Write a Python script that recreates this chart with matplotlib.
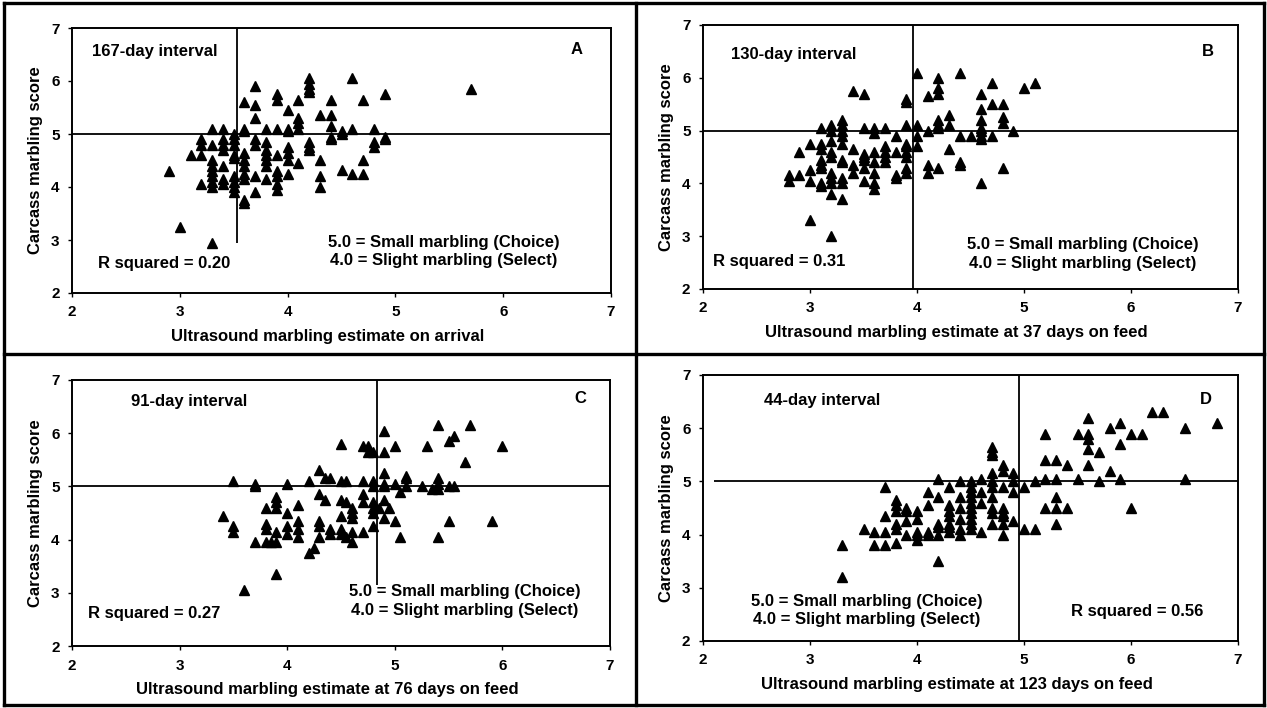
import matplotlib
matplotlib.use("Agg")
import matplotlib.pyplot as plt
from matplotlib.lines import Line2D

plt.rcParams['font.family'] = ['Liberation Sans', 'DejaVu Sans']
plt.rcParams['font.weight'] = 'bold'
plt.rcParams['axes.labelweight'] = 'bold'

# Panel A: arrival vs carcass
a_x = [2.9, 3.0, 3.1,
       3.2, 3.2, 3.2, 3.2,
       3.3, 3.3, 3.3, 3.3, 3.3, 3.3, 3.3, 3.3, 3.3,
       3.4, 3.4, 3.4, 3.4, 3.4, 3.4, 3.4,
       3.5, 3.5, 3.5, 3.5, 3.5, 3.5, 3.5, 3.5, 3.5,
       3.6, 3.6, 3.6, 3.6, 3.6, 3.6, 3.6, 3.6, 3.6, 3.6,
       3.7, 3.7, 3.7, 3.7, 3.7, 3.7, 3.7,
       3.8, 3.8, 3.8, 3.8, 3.8, 3.8, 3.8,
       3.9, 3.9, 3.9, 3.9, 3.9, 3.9, 3.9, 3.9,
       4.0, 4.0, 4.0, 4.0, 4.0, 4.0, 4.0,
       4.1, 4.1, 4.1, 4.1, 4.1,
       4.2, 4.2, 4.2, 4.2, 4.2, 4.2, 4.2,
       4.3, 4.3, 4.3, 4.3,
       4.4, 4.4, 4.4, 4.4, 4.4,
       4.5, 4.5, 4.5,
       4.6, 4.6, 4.6,
       4.7, 4.7, 4.7,
       4.8, 4.8, 4.8,
       4.9, 4.9, 4.9,
       5.7]
a_y = [4.3, 3.25, 4.6,
       4.9, 4.8, 4.6, 4.05,
       5.1, 4.8, 4.5, 4.4, 4.3, 4.2, 4.1, 4.0, 2.95,
       5.1, 4.9, 4.8, 4.7, 4.4, 4.15, 4.05,
       5.0, 4.9, 4.8, 4.6, 4.55, 4.2, 4.1, 4.0, 3.9,
       5.6, 5.1, 5.05, 4.65, 4.5, 4.4, 4.25, 4.15, 3.75, 3.7,
       5.9, 5.55, 5.3, 4.9, 4.8, 4.2, 3.9,
       5.1, 4.85, 4.7, 4.6, 4.5, 4.4, 4.15,
       5.75, 5.65, 5.1, 4.6, 4.3, 4.2, 4.05, 3.95,
       5.45, 5.1, 5.05, 4.75, 4.65, 4.5, 4.25,
       5.65, 5.3, 5.2, 5.1, 4.45,
       6.05, 5.95, 5.85, 5.8, 4.85, 4.75, 4.7,
       5.35, 4.5, 4.2, 4.0,
       5.65, 5.35, 5.15, 4.95, 4.9,
       5.05, 5.0, 4.33,
       6.05, 5.1, 4.25,
       5.65, 4.5, 4.25,
       5.1, 4.85, 4.75,
       5.75, 4.95, 4.9,
       5.85]

# Panel B: 37 days on feed
b_x = [2.8, 2.8, 2.9, 2.9,
       3.0, 3.0, 3.0, 3.0,
       3.1, 3.1, 3.1, 3.1, 3.1, 3.1, 3.1, 3.1,
       3.2, 3.2, 3.2, 3.2, 3.2, 3.2, 3.2, 3.2, 3.2, 3.2,
       3.3, 3.3, 3.3, 3.3, 3.3, 3.3, 3.3, 3.3, 3.3, 3.3,
       3.4, 3.4, 3.4, 3.4,
       3.5, 3.5, 3.5, 3.5, 3.5, 3.5, 3.5,
       3.6, 3.6, 3.6, 3.6, 3.6, 3.6, 3.6,
       3.7, 3.7, 3.7, 3.7, 3.7,
       3.8, 3.8, 3.8, 3.8,
       3.9, 3.9, 3.9, 3.9, 3.9, 3.9, 3.9, 3.9, 3.9,
       4.0, 4.0, 4.0, 4.0,
       4.1, 4.1, 4.1, 4.1,
       4.2, 4.2, 4.2, 4.2, 4.2, 4.2, 4.2,
       4.3, 4.3, 4.3,
       4.4, 4.4, 4.4, 4.4,
       4.5,
       4.6, 4.6, 4.6, 4.6, 4.6, 4.6, 4.6, 4.6,
       4.7, 4.7, 4.7,
       4.8, 4.8, 4.8, 4.8,
       4.9, 5.0, 5.1]
b_y = [4.15, 4.05, 4.6, 4.15,
       4.75, 4.25, 4.05, 3.3,
       5.05, 4.75, 4.65, 4.45, 4.35, 4.3, 4.0, 3.95,
       5.1, 5.0, 4.8, 4.6, 4.5, 4.2, 4.1, 4.0, 3.8, 3.0,
       5.2, 5.1, 5.0, 4.9, 4.75, 4.45, 4.4, 4.1, 4.0, 3.7,
       5.75, 4.65, 4.35, 4.2,
       5.7, 5.05, 4.55, 4.5, 4.45, 4.3, 4.05,
       5.05, 4.95, 4.6, 4.4, 4.2, 4.0, 3.9,
       5.05, 4.7, 4.6, 4.5, 4.4,
       4.9, 4.6, 4.15, 4.1,
       5.6, 5.55, 5.1, 4.75, 4.7, 4.6, 4.5, 4.3, 4.2,
       6.1, 5.1, 4.9, 4.7,
       5.65, 5.0, 4.35, 4.2,
       6.0, 5.8, 5.7, 5.2, 5.1, 5.05, 4.3,
       5.3, 5.1, 4.65,
       6.1, 4.9, 4.4, 4.35,
       4.9,
       5.7, 5.4, 5.2, 5.05, 5.0, 4.9, 4.85, 4.0,
       5.9, 5.5, 4.9,
       5.5, 5.25, 5.15, 4.3,
       5.0, 5.8, 5.9]

# Panel C: 76 days on feed
c_x = [3.4, 3.5, 3.5, 3.5, 3.6,
       3.7, 3.7, 3.7,
       3.8, 3.8, 3.8, 3.8, 3.85,
       3.9, 3.9, 3.9, 3.9, 3.9, 3.9,
       4.0, 4.0, 4.0, 4.0,
       4.1, 4.1, 4.1, 4.1,
       4.2, 4.2, 4.25,
       4.3, 4.3, 4.3, 4.3, 4.3,
       4.35, 4.35, 4.4, 4.4, 4.4,
       4.5, 4.5, 4.5, 4.5, 4.5, 4.5,
       4.55, 4.55, 4.55,
       4.6, 4.6, 4.6, 4.6, 4.6,
       4.7, 4.7, 4.7, 4.7, 4.7,
       4.75, 4.75,
       4.8, 4.8, 4.8, 4.8, 4.8, 4.8, 4.8,
       4.85,
       4.9, 4.9, 4.9, 4.9, 4.9, 4.9, 4.9,
       4.95,
       5.0, 5.0, 5.0, 5.05,
       5.1, 5.1, 5.1, 5.05,
       5.25, 5.3,
       5.35, 5.4, 5.4, 5.4, 5.4, 5.4,
       5.5, 5.5, 5.5, 5.55, 5.55,
       5.65, 5.7, 5.9, 6.0]
c_y = [4.45, 5.1, 4.25, 4.15, 3.05,
       5.0, 5.05, 3.95,
       4.6, 4.3, 4.2, 3.95, 3.95,
       4.8, 4.7, 4.6, 4.15, 3.95, 3.35,
       5.05, 4.5, 4.25, 4.1,
       4.65, 4.35, 4.2, 4.05,
       5.1, 3.75, 3.85,
       5.3, 4.85, 4.35, 4.25, 4.05,
       5.15, 4.75, 5.15, 4.2, 4.1,
       5.8, 5.1, 4.75, 4.45, 4.2, 4.1,
       5.1, 4.7, 4.05,
       4.6, 4.5, 4.4, 4.15, 3.95,
       5.75, 5.1, 4.85, 4.7, 4.15,
       5.75, 5.65,
       5.65, 5.1, 5.0, 4.7, 4.6, 4.5, 4.25,
       4.6,
       6.05, 5.65, 5.25, 5.05, 5.0, 4.75, 4.4,
       4.6,
       5.75, 5.05, 4.35, 4.05,
       5.2, 5.15, 5.0, 4.9,
       5.0, 5.75,
       4.95, 6.15, 5.15, 5.05, 4.95, 4.05,
       5.85, 5.0, 4.35, 5.95, 5.0,
       5.45, 6.15, 4.35, 5.75]

# Panel D: 123 days on feed
d_x = [3.3, 3.3, 3.5, 3.6, 3.6,
       3.7, 3.7, 3.7, 3.7,
       3.8, 3.8, 3.8, 3.8, 3.8, 3.8,
       3.9, 3.9, 3.9, 3.9,
       4.0, 4.0, 4.0, 4.0, 4.0,
       4.1, 4.1, 4.1, 4.1,
       4.2, 4.2, 4.2, 4.2, 4.2, 4.2,
       4.3, 4.3, 4.3, 4.3, 4.3, 4.3, 4.3,
       4.4, 4.4, 4.4, 4.4, 4.4, 4.4,
       4.5, 4.5, 4.5, 4.5, 4.5, 4.5, 4.5, 4.5, 4.5, 4.5,
       4.6, 4.6, 4.6, 4.6,
       4.7, 4.7, 4.7, 4.7, 4.7, 4.7, 4.7, 4.7, 4.7, 4.7,
       4.8, 4.8, 4.8, 4.8, 4.8, 4.8, 4.8, 4.8,
       4.9, 4.9, 4.9, 4.9,
       5.0, 5.0, 5.1, 5.1,
       5.2, 5.2, 5.2, 5.2,
       5.3, 5.3, 5.3, 5.3, 5.3,
       5.4, 5.4,
       5.5, 5.5,
       5.6, 5.6, 5.6, 5.6, 5.6,
       5.7, 5.7,
       5.8, 5.8,
       5.9, 5.9, 5.9,
       6.0, 6.0, 6.1,
       6.2, 6.3,
       6.5, 6.5, 6.8]
d_y = [3.8, 3.2, 4.1, 4.05, 3.8,
       4.9, 4.35, 4.05, 3.8,
       4.65, 4.55, 4.45, 4.2, 4.1, 3.85,
       4.5, 4.45, 4.25, 4.0,
       4.45, 4.3, 4.05, 4.0, 3.9,
       4.8, 4.55, 4.05, 4.0,
       5.05, 4.7, 4.2, 4.15, 4.0, 3.5,
       4.9, 4.55, 4.45, 4.35, 4.2, 4.15, 4.05,
       5.0, 4.7, 4.5, 4.3, 4.1, 4.0,
       5.0, 4.9, 4.8, 4.7, 4.6, 4.5, 4.4, 4.3, 4.2, 4.1,
       5.05, 4.8, 4.6, 4.05,
       5.65, 5.55, 5.5, 5.15, 5.0, 4.9, 4.7, 4.5, 4.4, 4.2,
       5.3, 5.2, 4.9, 4.5, 4.4, 4.35, 4.2, 4.0,
       5.15, 5.0, 4.8, 4.25,
       4.9, 4.1, 5.0, 4.1,
       5.9, 5.4, 5.05, 4.5,
       5.4, 5.05, 4.7, 4.5, 4.2,
       5.3, 4.5,
       5.9, 5.05,
       6.2, 5.9, 5.8, 5.6, 5.3,
       5.55, 5.0,
       6.0, 5.2,
       6.1, 5.7, 5.05,
       5.9, 4.5, 5.9,
       6.3, 6.3,
       6.0, 5.05, 6.1]

x_labels = ["Ultrasound marbling estimate on arrival",
            "Ultrasound marbling estimate at 37 days on feed",
            "Ultrasound marbling estimate at 76 days on feed",
            "Ultrasound marbling estimate at 123 days on feed"]
intervals = ["167-day interval", "130-day interval", "91-day interval", "44-day interval"]
letters = ["A", "B", "C", "D"]
r_squared = ["R squared = 0.20", "R squared = 0.31", "R squared = 0.27", "R squared = 0.56"]
split_x = [3.53, 3.96, 4.83, 4.95]    # vertical reference line
split_ymin = [2.95, 2.0, 3.15, 2.0]
hline_xmin = [2.0, 2.0, 2.0, 2.1]
legend_text = "5.0 = Small marbling (Choice)\n4.0 = Slight marbling (Select)"

W, H = 1267, 708
boxes = [(72, 28, 611, 293), (703, 25, 1238, 289),
         (72, 380, 610, 646), (703, 375, 1238, 641)]
interval_pos = [(2.19, 6.55), (2.26, 6.45), (2.55, 6.6), (2.57, 6.52)]
letter_pos = [(6.68, 6.6), (6.72, 6.5), (6.72, 6.66), (6.7, 6.54)]
rsq_pos = [(2.24, 2.56), (2.09, 2.53), (2.15, 2.61), (5.44, 2.56)]
legend_pos = [(5.45, 2.78), (5.55, 2.66), (5.65, 2.85), (3.53, 2.57)]

data = [(a_x, a_y), (b_x, b_y), (c_x, c_y), (d_x, d_y)]

fig = plt.figure(figsize=(W / 100, H / 100), dpi=100)

for i in range(4):
    l, t, r, b = boxes[i]
    ax = fig.add_axes([l / W, 1 - b / H, (r - l) / W, (b - t) / H])
    ax.set_xlim(2, 7)
    ax.set_ylim(2, 7)
    ax.set_xticks(range(2, 8))
    ax.set_yticks(range(2, 8))
    for s in ax.spines.values():
        s.set_linewidth(1.4)
    ax.tick_params(direction='out', length=3, width=1, pad=6, labelsize=11)

    ax.vlines(split_x[i], split_ymin[i], 7, color='black', lw=1.3)
    ax.hlines(5, hline_xmin[i], 7, color='black', lw=1.3)

    xs, ys = data[i]
    ax.plot(xs, ys, linestyle='none', marker='^', markersize=6.5,
            color='black', clip_on=False)

    ax.text(*interval_pos[i], intervals[i], fontsize=12, va='center', ha='left')
    ax.text(*letter_pos[i], letters[i], fontsize=12, va='center', ha='center')
    ax.text(*rsq_pos[i], r_squared[i], fontsize=12, va='center', ha='left')
    ax.text(*legend_pos[i], legend_text, fontsize=12, va='center', ha='center',
            linespacing=1.3)

    ax.set_xlabel(x_labels[i], fontsize=12, labelpad=4)
    ax.xaxis.set_label_coords(0.474, -0.135)
    ax.set_ylabel("Carcass marbling score", fontsize=12, labelpad=6)

# outer frames around the four panels
frame = dict(color='black', lw=2.4, transform=fig.transFigure)
for xa, ya, xb, yb in [(4, 3, 1264, 3), (4, 705, 1264, 705), (4, 3, 4, 705),
                       (1264, 3, 1264, 705), (636, 3, 636, 705), (4, 354, 1264, 354)]:
    fig.add_artist(Line2D([xa / W, xb / W], [1 - ya / H, 1 - yb / H], **frame))

fig.savefig("out.png", dpi=100)
